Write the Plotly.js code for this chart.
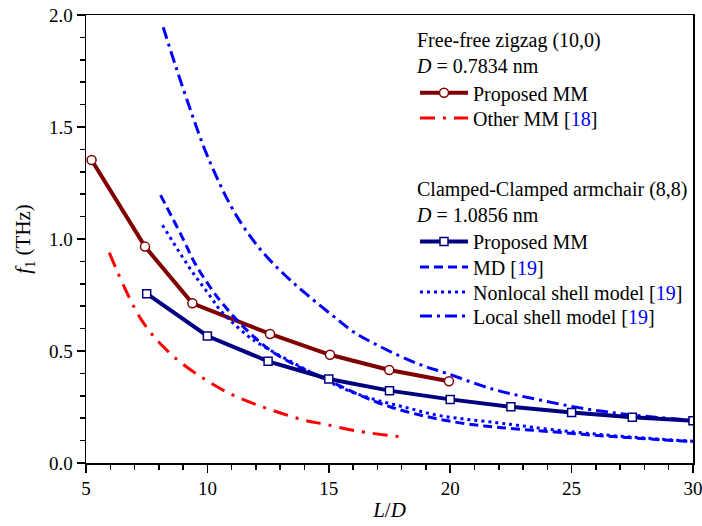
<!DOCTYPE html>
<html>
<head>
<meta charset="utf-8">
<script src="https://cdn.plot.ly/plotly-3.0.1.min.js"></script>
<style>html,body{margin:0;padding:0;background:#fff;}#chart{width:702px;height:526px;}</style>
</head>
<body>
<div id="chart"></div>
<script>
// Free-free zigzag (10,0): proposed MM
const zzX = [5.23, 7.43, 9.38, 12.58, 15.05, 17.49, 19.95];
const zzY = [1.353, 0.966, 0.713, 0.576, 0.483, 0.415, 0.365];
// Free-free zigzag: other MM [18]
const otherX = [5.96, 7.29, 8.46, 9.83, 11.2, 13.95, 14.84, 16.15, 17.93];
const otherY = [0.939, 0.638, 0.490, 0.378, 0.296, 0.192, 0.173, 0.143, 0.117];
// Clamped-clamped armchair (8,8): proposed MM
const acX = [7.5, 10, 12.5, 15, 17.5, 20, 22.5, 25, 27.5, 30];
const acY = [0.756, 0.567, 0.454, 0.375, 0.323, 0.284, 0.251, 0.225, 0.204, 0.189];
// MD [19]
const mdX = [8.07, 8.94, 9.49, 10.18, 10.59, 11.55, 12.58, 13.61, 14.36, 15.39, 16.42, 17.52, 18.76, 20.13, 21.5, 22.74, 24.11, 26.17, 28.23, 30];
const mdY = [1.196, 1.013, 0.891, 0.775, 0.716, 0.601, 0.504, 0.438, 0.400, 0.348, 0.296, 0.251, 0.214, 0.184, 0.164, 0.152, 0.140, 0.122, 0.107, 0.095];
// Nonlocal shell model [19]
const nlX = [8.15, 8.94, 9.42, 9.77, 10.18, 10.52, 11.62, 12.17, 13.4, 14.5, 15.74, 16.97, 18.21, 19.44, 20.68, 21.91, 22.8, 24.1, 26.2, 28.2, 30];
const nlY = [1.062, 0.925, 0.847, 0.795, 0.735, 0.683, 0.571, 0.530, 0.455, 0.392, 0.326, 0.281, 0.247, 0.214, 0.195, 0.180, 0.168, 0.150, 0.127, 0.110, 0.097];
// Local shell model [19]
const lsX = [8.18, 8.71, 9.35, 9.9, 10.49, 10.97, 11.56, 12.28, 13.2, 14.13, 15.39, 16.01, 17.04, 18.62, 19.86, 21.77, 23.7, 25.62, 27.54, 30];
const lsY = [1.945, 1.766, 1.561, 1.397, 1.251, 1.147, 1.043, 0.941, 0.838, 0.749, 0.638, 0.586, 0.524, 0.445, 0.400, 0.329, 0.281, 0.241, 0.214, 0.190];

const FONT = 'Liberation Serif, Times New Roman, serif';
const BLUE = '#0000FF';
const ref = n => '[<span style="color:' + BLUE + '">' + n + '</span>]';

const traces = [
  {x: zzX, y: zzY, name: 'Proposed MM', legend: 'legend', mode: 'lines+markers',
   line: {color: '#800000', width: 4},
   marker: {symbol: 'circle', size: 9, color: '#ffffff', line: {color: '#800000', width: 1.5}}},
  {x: otherX, y: otherY, name: 'Other MM ' + ref(18), legend: 'legend2', mode: 'lines',
   line: {color: '#FF0000', width: 3, dash: '15px,8px,3px,8px', shape: 'spline'}},
  {x: mdX, y: mdY, name: 'MD ' + ref(19), legend: 'legend4', mode: 'lines',
   line: {color: BLUE, width: 3, dash: '9px,5px', shape: 'spline'}},
  {x: nlX, y: nlY, name: 'Nonlocal shell model ' + ref(19), legend: 'legend5', mode: 'lines',
   line: {color: BLUE, width: 3, dash: '3px,4px', shape: 'spline'}},
  {x: lsX, y: lsY, name: 'Local shell model ' + ref(19), legend: 'legend6', mode: 'lines',
   line: {color: BLUE, width: 3, dash: '12px,5px,3px,5px', shape: 'spline'}},
  {x: acX, y: acY, name: 'Proposed MM', legend: 'legend3', mode: 'lines+markers',
   line: {color: '#000080', width: 4},
   marker: {symbol: 'square', size: 8, color: '#ffffff', line: {color: '#000080', width: 1.5}}}
];

const axisBase = {
  showgrid: false, zeroline: false, showline: true, linecolor: '#000', linewidth: 1.5,
  mirror: true, ticks: 'outside', ticklen: 8, tickwidth: 1.5, tickcolor: '#000',
  tickfont: {family: FONT, size: 19, color: '#000'}
};

const LX = 0.542;
function leg(y, anchor, title) {
  const o = {
    xref: 'paper', yref: 'paper', xanchor: 'left', yanchor: anchor, x: LX, y: y,
    bgcolor: 'rgba(0,0,0,0)', borderwidth: 0, itemwidth: 48,
    font: {family: FONT, size: 20, color: '#000'},
    itemclick: false
  };
  if (title) o.title = {text: title, side: 'top', font: {family: FONT, size: 20, color: '#000'}};
  return o;
}

const layout = {
  width: 702, height: 526,
  margin: {l: 86, r: 9, t: 15, b: 63},
  paper_bgcolor: '#fff', plot_bgcolor: '#fff',
  font: {family: FONT, size: 19, color: '#000'},
  xaxis: Object.assign({}, axisBase, {
    range: [5, 30], tick0: 5, dtick: 5, ticklabeloverflow: 'allow',
    minor: {dtick: 1, ticks: 'outside', ticklen: 5, tickwidth: 1.5, tickcolor: '#000', showgrid: false},
    title: {text: '<i>L</i>/<i>D</i>', font: {family: FONT, size: 21, color: '#000'}, standoff: 4}
  }),
  yaxis: Object.assign({}, axisBase, {
    range: [0, 2], tick0: 0, dtick: 0.5, tickformat: '.1f',
    minor: {dtick: 0.1, ticks: 'outside', ticklen: 5, tickwidth: 1.5, tickcolor: '#000', showgrid: false},
    title: {text: '<i>f</i><sub>1</sub> (THz)', font: {family: FONT, size: 21, color: '#000'}, standoff: 12}
  }),
  xaxis2: {
    overlaying: 'x', side: 'top', anchor: 'y', range: [5, 30], tick0: 5, dtick: 1,
    ticks: 'inside', ticklen: 3, tickwidth: 1, tickcolor: '#000',
    showticklabels: false, showline: false, showgrid: false, zeroline: false
  },
  yaxis2: {
    overlaying: 'y', side: 'right', anchor: 'x', range: [0, 2], tick0: 0, dtick: 0.1,
    ticks: 'inside', ticklen: 3, tickwidth: 1, tickcolor: '#000',
    showticklabels: false, showline: false, showgrid: false, zeroline: false
  },
  showlegend: true,
  legend: leg(0.986, 'top', 'Free-free zigzag (10,0)<br><i>D</i> = 0.7834 nm'),
  legend2: leg(0.770, 'middle'),
  legend3: leg(0.654, 'top', 'Clamped-Clamped armchair (8,8)<br><i>D</i> = 1.0856 nm'),
  legend4: leg(0.4375, 'middle'),
  legend5: leg(0.3817, 'middle'),
  legend6: leg(0.328, 'middle')
};

Plotly.newPlot('chart', traces, layout, {displayModeBar: false, staticPlot: true});
</script>
</body>
</html>
